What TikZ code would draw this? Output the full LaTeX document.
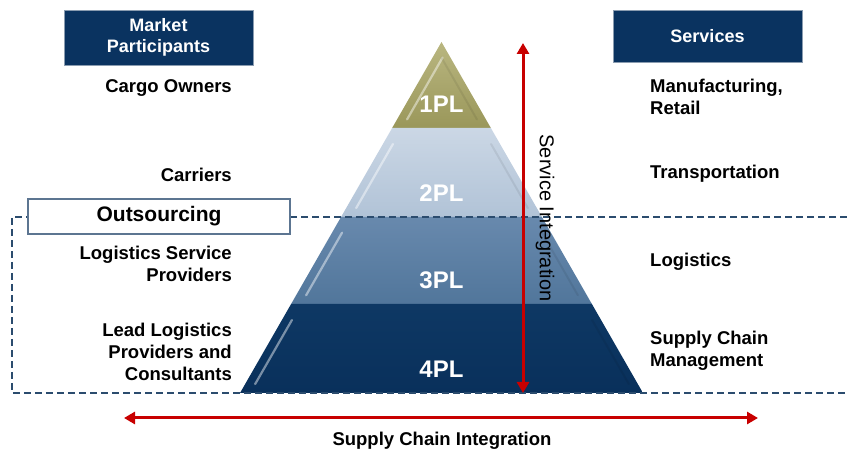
\documentclass[tikz,border=0pt]{standalone}
\usepackage{fontspec}
\setmainfont{Liberation Sans}
\usepackage{tikz}
\usetikzlibrary{arrows.meta,calc}

\definecolor{navy}{HTML}{0A3360}
\definecolor{hdredge}{HTML}{8A9CB0}
\definecolor{arrowred}{HTML}{C80000}
\definecolor{dashblue}{HTML}{2B4C6E}
\definecolor{boxedge}{HTML}{5C7591}
\definecolor{oneT}{HTML}{B9B680}
\definecolor{oneB}{HTML}{9A975A}
\definecolor{twoT}{HTML}{CBD7E5}
\definecolor{twoB}{HTML}{B1C3D7}
\definecolor{threeT}{HTML}{6889AD}
\definecolor{threeB}{HTML}{51769B}
\definecolor{fourT}{HTML}{0E3864}
\definecolor{fourB}{HTML}{09305B}

\begin{document}
\begin{tikzpicture}[
  x=1pt,
  y=-1pt,
  lbl/.style={font=\fontsize{18.5}{22}\selectfont\bfseries, inner sep=0pt},
  hdr/.style={fill=navy, draw=hdredge, line width=0.8pt, text=white, align=center,
    font=\fontsize{18}{21}\selectfont\bfseries, inner sep=0pt, minimum width=189pt},
  pl/.style={text=white, font=\fontsize{24}{24}\selectfont\bfseries, inner sep=0pt},
  arr/.style={draw=arrowred, line width=3pt, {Triangle[length=11pt,width=12pt]}-{Triangle[length=11pt,width=12pt]}},
  outs/.style={draw=dashblue, line width=2.2pt, dash pattern=on 7pt off 4pt}
]
\useasboundingbox (0,0) rectangle (847,454);

% pyramid layers
\foreach \ya/\yb/\col/\txt/\nm in {
  42/128/one/1PL/one,
  128/217/two/2PL/two,
  217/304/three/3PL/three,
  304/393/four/4PL/four
}{
  \pgfmathsetmacro{\wa}{(\ya-42)*0.574}
  \pgfmathsetmacro{\wb}{(\yb-42)*0.574}
  \coordinate (\nm tl) at (441.5-\wa,\ya);
  \coordinate (\nm tr) at (441.5+\wa,\ya);
  \coordinate (\nm br) at (441.5+\wb,\yb);
  \coordinate (\nm bl) at (441.5-\wb,\yb);
  \shade[top color=\col T, bottom color=\col B] (\nm tl) -- (\nm tr) -- (\nm br) -- (\nm bl) -- cycle;
  \draw[white, opacity=0.45, line width=2.2pt, line cap=round]
    ($(\nm bl)!0.1!(\nm tl)+(10,0)$) -- ($(\nm bl)!0.82!(\nm tl)+(10,0)$);
  \draw[black, opacity=0.07, line width=2pt, line cap=round]
    ($(\nm br)!0.1!(\nm tr)+(-9,0)$) -- ($(\nm br)!0.82!(\nm tr)+(-9,0)$);
  \node[pl] (\nm pl) at (441.5,\yb-24) {\txt};
}

% outsourcing frame
\draw[outs] (847,217) -- (12,217) -- (12,393) -- (847,393);
\node[draw=boxedge, fill=white, line width=1.2pt, minimum width=262pt, minimum height=35pt,
  inner sep=0pt, font=\fontsize{21}{21}\selectfont\bfseries] (outsrc) at (159,216.5) {Outsourcing};

% headers
\node[hdr, minimum height=55pt] (mkt) at (158.5,37.5) {Market\\Participants};
\node[hdr, minimum height=52pt] (svc) at (707.5,36) {Services};

% market participants
\foreach \y/\txt/\nm in {
  88/Cargo Owners/cargo,
  175/Carriers/carr,
  264/{Logistics Service\\Providers}/lsp,
  352/{Lead Logistics\\Providers and\\Consultants}/llp
}{
  \node[lbl, anchor=east, align=right] (\nm) at (232,\y) {\txt};
}

% services
\foreach \y/\txt/\nm in {
  97/{Manufacturing,\\Retail}/mfg,
  174/Transportation/trans,
  262/Logistics/logi,
  351/{Supply Chain\\Management}/scm
}{
  \node[lbl, anchor=west, align=left] (\nm) at (650,\y) {\txt};
}

% integration arrows
\coordinate (sitop) at (523,43);
\coordinate (sibot) at (523,393);
\draw[arr] (sibot) -- (sitop);
\node[rotate=-90, inner sep=0pt, font=\fontsize{20}{20}\selectfont] (si) at (545,218) {Service Integration};

\coordinate (scleft) at (124,418);
\coordinate (scright) at (758,418);
\draw[arr] (scleft) -- (scright);
\node[lbl] (sc) at (442,441) {Supply Chain Integration};
\end{tikzpicture}
\end{document}
